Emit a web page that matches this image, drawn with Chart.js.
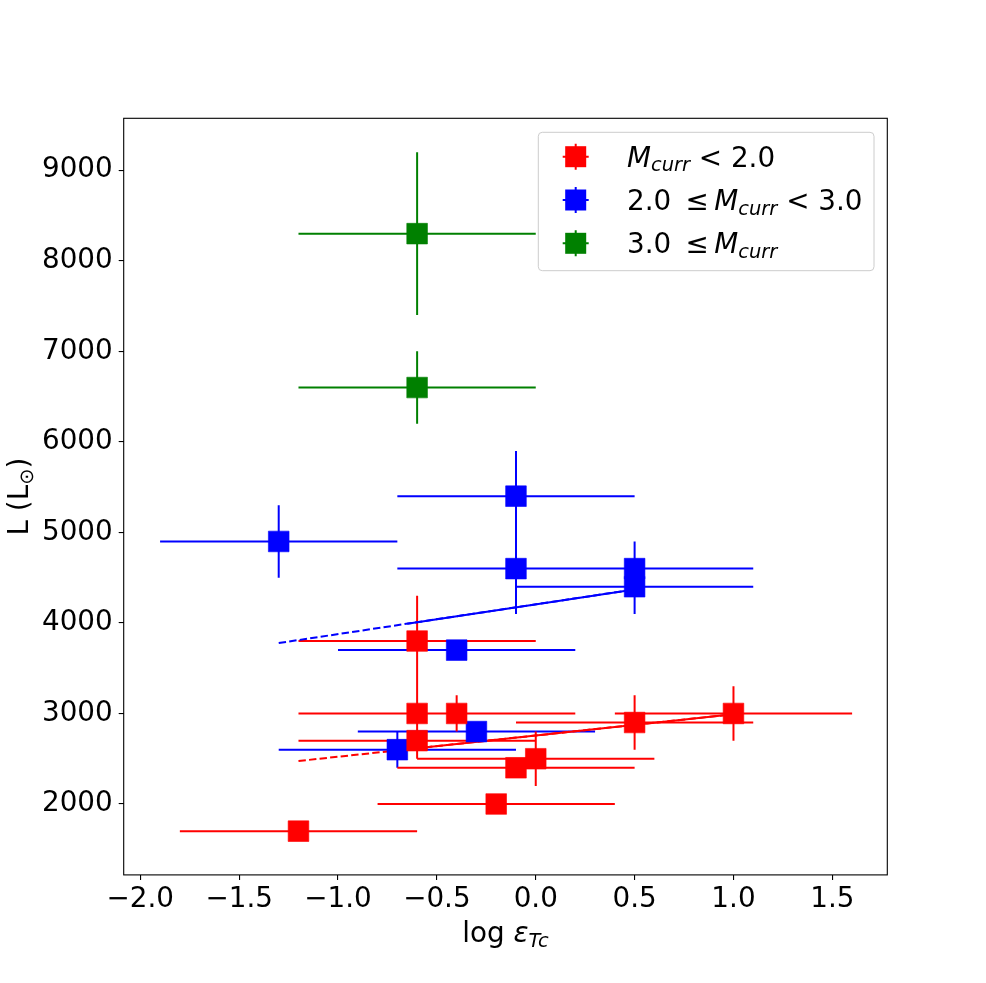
<!DOCTYPE html>
<html><head><meta charset="utf-8">
<script src="https://cdn.jsdelivr.net/npm/chart.js@4.4.1/dist/chart.umd.min.js"></script>
<style>html,body{margin:0;padding:0;background:#fff;}canvas{display:block;}</style>
</head><body>
<canvas id="c" width="986" height="983"></canvas>
<script>
// ---- data ----
const redX    = [-1.2, -0.2, -0.1, 0.0, -0.6, -0.6, -0.4, 0.5, 1.0, -0.6];
const redY    = [1700, 2000, 2400, 2500, 2700, 3000, 3000, 2900, 3000, 3800];
const redXErr = [0.6, 0.6, 0.6, 0.6, 0.6, 0.6, 0.6, 0.6, 0.6, 0.6];
const redYErr = [100, 100, 100, 300, 200, 300, 200, 300, 300, 500];

const blueX    = [-1.3, -0.1, -0.1, 0.5, 0.5, -0.4, -0.3, -0.7];
const blueY    = [4900, 5400, 4600, 4600, 4400, 3700, 2800, 2600];
const blueXErr = [0.6, 0.6, 0.6, 0.6, 0.6, 0.6, 0.6, 0.6];
const blueYErr = [400, 500, 500, 300, 300, 100, 100, 200];

const greenX    = [-0.6, -0.6];
const greenY    = [8300, 6600];
const greenXErr = [0.6, 0.6];
const greenYErr = [900, 400];

// fit lines (dashed over full range, solid over main range)
const redFitDashX  = [-1.2, 1.0];
const redFitDashY  = [2475, 2992];
const redFitSolidX = [-0.6, 1.0];
const redFitSolidY = [2616, 2992];
const blueFitDashX  = [-1.3, 0.5];
const blueFitDashY  = [3778, 4370];
const blueFitSolidX = [-0.65, 0.5];
const blueFitSolidY = [3992, 4370];

const xTicks = [-2.0, -1.5, -1.0, -0.5, 0.0, 0.5, 1.0, 1.5];
const xTickLabels = ['\u22122.0', '\u22121.5', '\u22121.0', '\u22120.5', '0.0', '0.5', '1.0', '1.5'];
const yTicks = [2000, 3000, 4000, 5000, 6000, 7000, 8000, 9000];
const yTickLabels = ['2000', '3000', '4000', '5000', '6000', '7000', '8000', '9000'];

const seriesColors = ['#ff0000', '#0000ff', '#008000'];
const legendLabels = [
  [{t:'M', i:1}, {t:'curr', i:1, s:1}, {t:' < 2.0'}],
  [{t:'2.0 '}, {t:'\u2264', g:5.5}, {t:'M', i:1}, {t:'curr', i:1, s:1}, {t:' < 3.0'}],
  [{t:'3.0 '}, {t:'\u2264', g:5.5}, {t:'M', i:1}, {t:'curr', i:1, s:1}]
];
const xLabelParts = [{t:'log '}, {t:'\u03b5', i:1}, {t:'Tc', i:1, s:1}];
const yLabelParts = [{t:'L (L'}, {t:'\u2299', s:1}, {t:')'}];

// ---- helpers ----
const FS = 27.8;
const FAMILY = "'DejaVu Sans'";
function toXY(xs, ys) { return xs.map((x, i) => ({x: x, y: ys[i]})); }
function errPts(xs, ys, xe, ye) {
  const pts = [];
  for (let i = 0; i < xs.length; i++) {
    pts.push({x: xs[i] - xe[i], y: ys[i]}, {x: xs[i] + xe[i], y: ys[i]}, {x: NaN, y: NaN});
    pts.push({x: xs[i], y: ys[i] - ye[i]}, {x: xs[i], y: ys[i] + ye[i]}, {x: NaN, y: NaN});
  }
  return pts;
}
function errDS(xs, ys, xe, ye, color, order) {
  return {data: errPts(xs, ys, xe, ye), showLine: true, borderColor: color, borderWidth: 2,
          pointRadius: 0, pointHoverRadius: 0, spanGaps: false, order: order};
}
function ptDS(xs, ys, color, order) {
  return {data: toXY(xs, ys), showLine: false, pointStyle: 'rect', pointRadius: 14.6,
          pointHoverRadius: 14.6, backgroundColor: color, borderColor: color, borderWidth: 0.6, order: order};
}
function lineDS(xs, ys, color, dash, order) {
  return {data: toXY(xs, ys), showLine: true, borderColor: color, borderWidth: 2, borderDash: dash,
          pointRadius: 0, pointHoverRadius: 0, order: order};
}
function partFont(p) { return (p.i ? 'italic ' : '') + (p.s ? FS * 0.7 : FS) + 'px ' + FAMILY; }
function partsWidth(ctx, parts) {
  let w = 0;
  parts.forEach(p => { ctx.font = partFont(p); w += ctx.measureText(p.t).width + (p.g ? 2 * p.g : 0); });
  return w;
}
function drawParts(ctx, parts, x, y) {
  parts.forEach(p => {
    ctx.font = partFont(p);
    if (p.g) x += p.g;
    ctx.fillText(p.t, x, y + (p.s ? 4.8 : 0));
    x += ctx.measureText(p.t).width;
    if (p.g) x += p.g;
  });
}

const decorPlugin = {
  id: 'decor',
  afterDraw(chart) {
    const ctx = chart.ctx;
    const a = chart.chartArea;
    ctx.save();
    // frame
    ctx.strokeStyle = '#000'; ctx.lineWidth = 1.1;
    ctx.strokeRect(a.left, a.top, a.right - a.left, a.bottom - a.top);
    ctx.fillStyle = '#000';
    ctx.textBaseline = 'alphabetic'; ctx.textAlign = 'left';
    // x label
    const xw = partsWidth(ctx, xLabelParts);
    drawParts(ctx, xLabelParts, (a.left + a.right) / 2 - xw / 2, 942);
    // y label
    ctx.save();
    ctx.translate(28, (a.top + a.bottom) / 2);
    ctx.rotate(-Math.PI / 2);
    const yw = partsWidth(ctx, yLabelParts);
    drawParts(ctx, yLabelParts, -yw / 2, 0);
    ctx.restore();
    // legend
    const bx = 538.3, by = 132.3, bw = 335.7, bh = 138.4;
    ctx.beginPath();
    ctx.roundRect(bx, by, bw, bh, 4);
    ctx.fillStyle = 'rgba(255,255,255,0.8)'; ctx.fill();
    ctx.strokeStyle = '#cccccc'; ctx.lineWidth = 1; ctx.stroke();
    const rows = [156.7, 200.0, 243.3];
    rows.forEach((cy, k) => {
      const c = seriesColors[k], hx = 575.7;
      ctx.strokeStyle = c; ctx.lineWidth = 2;
      ctx.beginPath();
      ctx.moveTo(hx - 13, cy); ctx.lineTo(hx + 13, cy);
      ctx.moveTo(hx, cy - 13); ctx.lineTo(hx, cy + 13);
      ctx.stroke();
      ctx.fillStyle = c;
      ctx.fillRect(hx - 10.5, cy - 10.5, 21, 21);
      ctx.fillStyle = '#000';
      drawParts(ctx, legendLabels[k], 627, cy + 9.9);
    });
    ctx.restore();
  }
};

const tickFont = {family: FAMILY, size: FS};
new Chart(document.getElementById('c').getContext('2d'), {
  type: 'scatter',
  data: {
    datasets: [
      errDS(blueX, blueY, blueXErr, blueYErr, seriesColors[1], 20),
      errDS(redX, redY, redXErr, redYErr, seriesColors[0], 19),
      errDS(greenX, greenY, greenXErr, greenYErr, seriesColors[2], 18),
      lineDS(redFitDashX, redFitDashY, seriesColors[0], [7.4, 3.2], 15),
      lineDS(blueFitDashX, blueFitDashY, seriesColors[1], [7.4, 3.2], 14),
      lineDS(redFitSolidX, redFitSolidY, seriesColors[0], [], 13),
      lineDS(blueFitSolidX, blueFitSolidY, seriesColors[1], [], 12),
      ptDS(blueX, blueY, seriesColors[1], 10),
      ptDS(redX, redY, seriesColors[0], 9),
      ptDS(greenX, greenY, seriesColors[2], 8)
    ]
  },
  options: {
    responsive: false, animation: false, devicePixelRatio: 1,
    layout: {padding: {top: 118.3, right: 98.7, left: 0, bottom: 0}},
    plugins: {legend: {display: false}, tooltip: {enabled: false}},
    scales: {
      x: {
        type: 'linear', min: -2.084, max: 1.778,
        afterBuildTicks: s => { s.ticks = xTicks.map(v => ({value: v})); },
        afterFit: s => { s.height = 108.1; },
        ticks: {font: tickFont, color: '#000', padding: 3, autoSkip: false, maxRotation: 0,
                callback: (v, i) => xTickLabels[i]},
        grid: {drawOnChartArea: false, drawTicks: true, tickLength: 5, color: '#000', lineWidth: 1.1},
        border: {display: false}
      },
      y: {
        type: 'linear', min: 1217, max: 9574,
        afterBuildTicks: s => { s.ticks = yTicks.map(v => ({value: v})); },
        afterFit: s => { s.width = 123.7; },
        ticks: {font: tickFont, color: '#000', padding: 6, autoSkip: false,
                callback: (v, i) => yTickLabels[i]},
        grid: {drawOnChartArea: false, drawTicks: true, tickLength: 5, color: '#000', lineWidth: 1.1},
        border: {display: false}
      }
    }
  },
  plugins: [decorPlugin]
});
</script>
</body></html>
